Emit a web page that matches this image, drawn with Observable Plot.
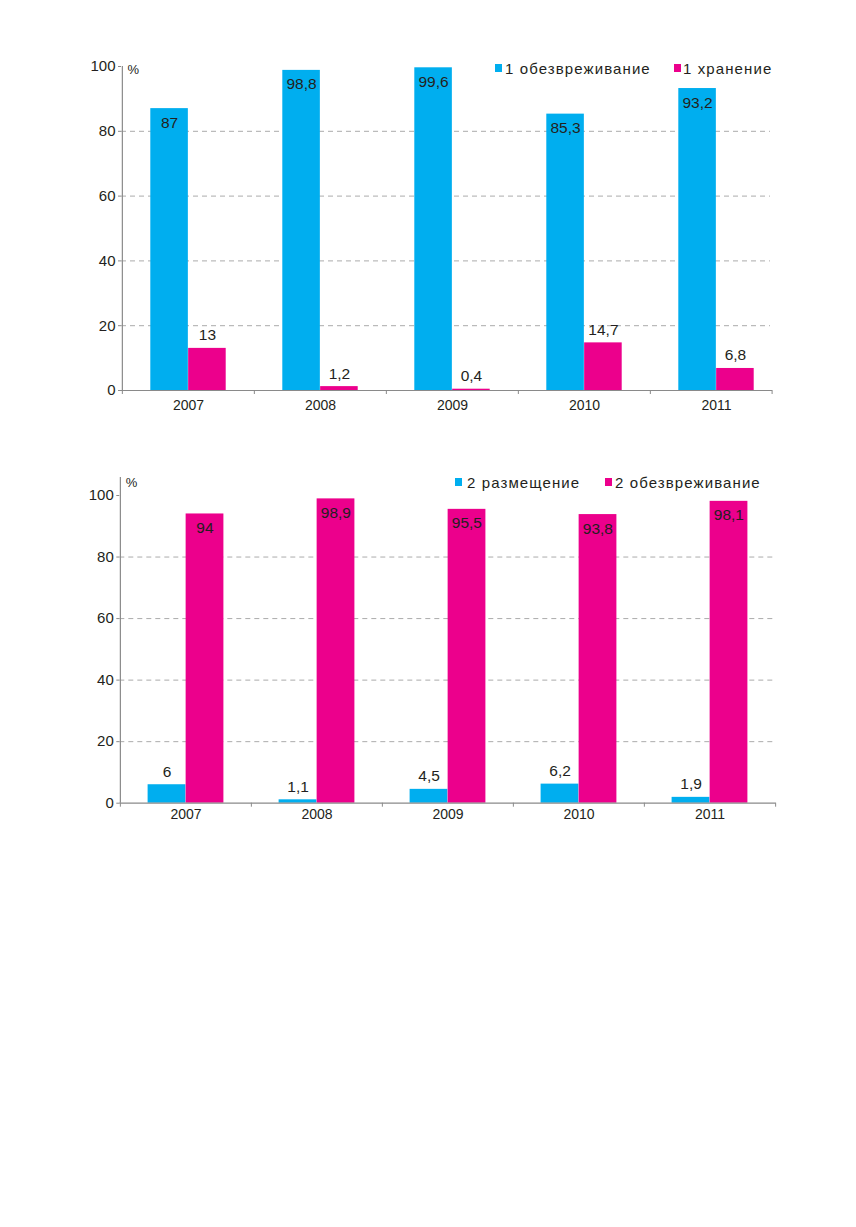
<!DOCTYPE html>
<html>
<head>
<meta charset="utf-8">
<script src="https://cdn.jsdelivr.net/npm/d3@7"></script>
<script src="https://cdn.jsdelivr.net/npm/@observablehq/plot@0.6"></script>
<style>
  html, body { margin: 0; padding: 0; background: #fff; }
  #page { position: relative; width: 856px; height: 1227px; background: #fff; font-family: "Liberation Sans", Arial, Helvetica, sans-serif; color: #231f20; }
  .chart { position: absolute; left: 0; }
  .leg { position: absolute; font-size: 15px; letter-spacing: 1.1px; line-height: 1; white-space: nowrap; }
  .sq { position: absolute; width: 7px; height: 8px; }
  .lt { position: absolute; transform: translateY(-50%); }
</style>
</head>
<body>
<div id="page"></div>
<script>
const years = ["2007", "2008", "2009", "2010", "2011"];
const yTicks = [0, 20, 40, 60, 80, 100];
const gridTicks = [20, 40, 60, 80];

const name1a = "1 обезвреживание";
const values1a = [87, 98.8, 99.6, 85.3, 93.2];
const name1b = "1 хранение";
const values1b = [13, 1.2, 0.4, 14.7, 6.8];

const name2a = "2 размещение";
const values2a = [6, 1.1, 4.5, 6.2, 1.9];
const name2b = "2 обезвреживание";
const values2b = [94, 98.9, 95.5, 93.8, 98.1];

const cyan = "#00aeef";
const magenta = "#ec008c";
const textColor = "#231f20";
const axisColor = "#8a8a8a";
const fmt = v => String(v).replace(".", ",");

function rows(vals) { return years.map((y, i) => ({year: y, value: vals[i]})); }

function chart(opts) {
  const {aVals, bVals, marginLeft, marginRight, marginTop, marginBottom, height, xRange, yRange,
         half, inset, labelDx, pctDy, yearPad, endDx} = opts;
  const A = rows(aVals), B = rows(bVals);
  const inside = d => d.value > 50;
  const outside = d => d.value <= 50;
  const lab = {fontSize: 15.5, fill: textColor, lineAnchor: "middle"};
  return Plot.plot({
    width: 856, height, marginLeft, marginRight, marginTop, marginBottom,
    style: {fontFamily: '"Liberation Sans", Arial, Helvetica, sans-serif', background: "white", color: textColor, overflow: "visible"},
    x: {type: "band", domain: years, padding: 0, range: xRange},
    y: {domain: [0, 100], range: yRange},
    marks: [
      Plot.ruleY(gridTicks, {stroke: "#ababab", strokeDasharray: "5,4", strokeWidth: 1, insetRight: 2}),
      Plot.barY(A, {x: "year", y: "value", fill: cyan, insetLeft: inset, insetRight: half}),
      Plot.barY(B, {x: "year", y: "value", fill: magenta, insetLeft: half, insetRight: inset}),
      Plot.ruleY([0], {stroke: axisColor, strokeWidth: 1.2}),
      Plot.ruleX([years[0]], {x: d => d, dx: -half, stroke: axisColor, strokeWidth: 1.2}),
      Plot.ruleX(years, {x: d => d, dx: -half, y1: 0, y2: 0, insetBottom: -4, stroke: axisColor}),
      Plot.ruleX([years[years.length - 1]], {x: d => d, dx: endDx, y1: 0, y2: 0, insetBottom: -4, stroke: axisColor}),
      Plot.axisY({ticks: yTicks, tickSize: 3, tickPadding: 3, fontSize: 15, label: null, stroke: axisColor, fill: textColor, tickFormat: d => d}),
      Plot.axisX({tickSize: 0, tickPadding: yearPad, fontSize: 14, label: null, fill: textColor}),
      Plot.text(A.filter(inside), {x: "year", y: "value", text: d => fmt(d.value), dx: -labelDx, dy: 14, ...lab}),
      Plot.text(A.filter(outside), {x: "year", y: "value", text: d => fmt(d.value), dx: -labelDx, dy: -13, ...lab}),
      Plot.text(B.filter(inside), {x: "year", y: "value", text: d => fmt(d.value), dx: labelDx, dy: 14, ...lab}),
      Plot.text(B.filter(outside), {x: "year", y: "value", text: d => fmt(d.value), dx: labelDx, dy: -13, ...lab}),
      Plot.text(["%"], {frameAnchor: "top-left", text: d => d, dx: 6, dy: pctDy, fontSize: 13, fill: textColor, textAnchor: "start", lineAnchor: "middle"})
    ]
  });
}

const page = document.getElementById("page");

const c1 = chart({
  aVals: values1a, bVals: values1b,
  marginLeft: 121, marginRight: 84, marginTop: 66, marginBottom: 40, height: 430,
  xRange: [121, 782.5], yRange: undefined,
  half: 66.15, inset: 28.3, labelDx: 18.95, pctDy: 3, yearPad: 10, endDx: 55.6
});
c1.classList.add("chart"); c1.style.top = "0px";
page.appendChild(c1);

const c2 = chart({
  aVals: values2a, bVals: values2b,
  marginLeft: 119.3, marginRight: 80.4, marginTop: 37, marginBottom: 37.3, height: 400,
  xRange: undefined, yRange: [362.7, 55],
  half: 65.63, inset: 27.6, labelDx: 18.9, pctDy: 5.5, yearPad: 5.5, endDx: 65.63
});
c2.classList.add("chart"); c2.style.top = "440px";
page.appendChild(c2);

function legend(items, cy) {
  for (const it of items) {
    const sq = document.createElement("div");
    sq.className = "sq";
    sq.style.left = it.sx + "px"; sq.style.top = (cy - 4) + "px"; sq.style.background = it.color;
    page.appendChild(sq);
    const t = document.createElement("div");
    t.className = "leg lt";
    t.style.left = it.tx + "px"; t.style.top = cy + "px";
    t.textContent = it.name;
    page.appendChild(t);
  }
}
legend([
  {name: name1a, color: cyan, sx: 495, tx: 505},
  {name: name1b, color: magenta, sx: 674, tx: 683}
], 68);
legend([
  {name: name2a, color: cyan, sx: 455, tx: 467},
  {name: name2b, color: magenta, sx: 605, tx: 615}
], 482);
</script>
</body>
</html>
